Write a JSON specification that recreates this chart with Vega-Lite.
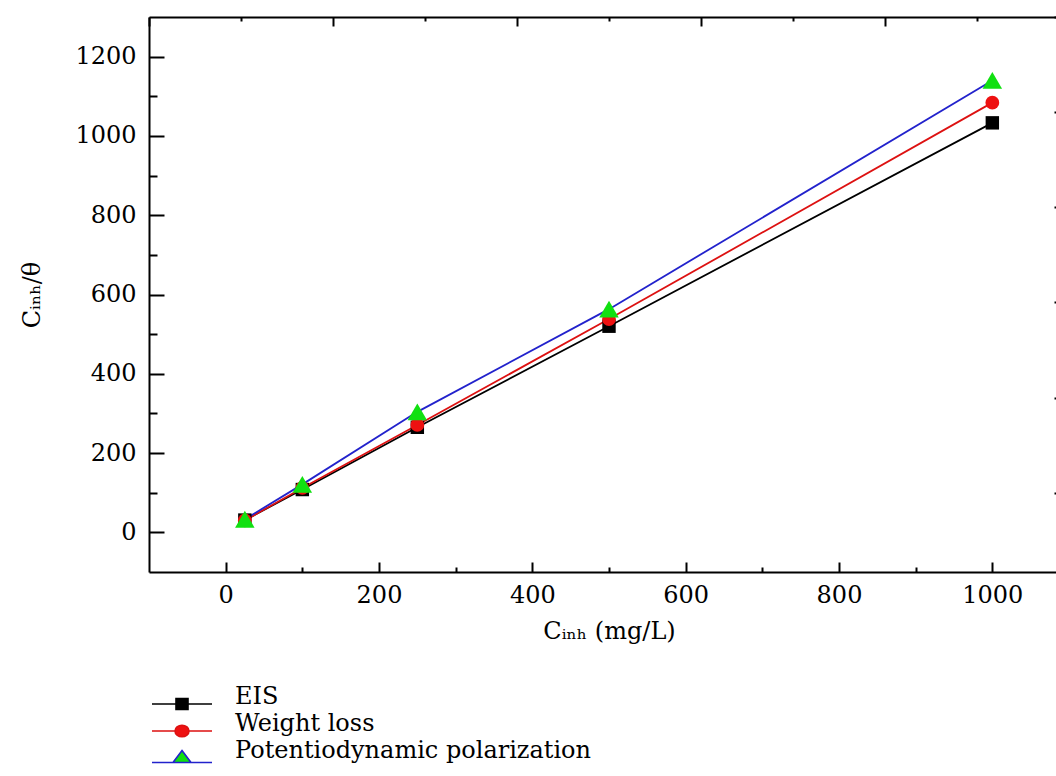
{
  "$schema": "https://vega.github.io/schema/vega-lite/v6.json",
  "width": 920,
  "height": 555,
  "autosize": {"type": "none"},
  "padding": {"left": 149, "top": 17, "right": 0, "bottom": 204},
  "background": "white",
  "data": {
    "values": [
      {"series": "EIS", "C": 25, "v": 31},
      {"series": "EIS", "C": 100, "v": 108},
      {"series": "EIS", "C": 250, "v": 265},
      {"series": "EIS", "C": 500, "v": 520},
      {"series": "EIS", "C": 1000, "v": 1033},
      {"series": "Weight loss", "C": 25, "v": 30},
      {"series": "Weight loss", "C": 100, "v": 112},
      {"series": "Weight loss", "C": 250, "v": 271},
      {"series": "Weight loss", "C": 500, "v": 538},
      {"series": "Weight loss", "C": 1000, "v": 1084},
      {"series": "Potentiodynamic polarization", "C": 25, "v": 33},
      {"series": "Potentiodynamic polarization", "C": 100, "v": 121},
      {"series": "Potentiodynamic polarization", "C": 250, "v": 304},
      {"series": "Potentiodynamic polarization", "C": 500, "v": 563},
      {"series": "Potentiodynamic polarization", "C": 1000, "v": 1140}
    ]
  },
  "layer": [
    {
      "mark": {"type": "point", "filled": true, "opacity": 0, "size": 400},
      "encoding": {
        "x": {"field": "C", "type": "quantitative", "scale": {"domain": [-100, 1100], "nice": false, "zero": false},
              "axis": {"orient": "top", "values": [-100, 140, 380, 620, 860, 1100], "tickSize": -9, "labels": false, "domain": true, "title": null}},
        "y": {"field": "v", "type": "quantitative", "scale": {"domain": [-100, 1300], "nice": false, "zero": false},
              "axis": {"orient": "right", "values": [100, 340, 580, 820, 1060, 1300], "tickSize": -15, "labels": false, "domain": true, "title": null}},
        "shape": {"field": "series", "type": "nominal",
                  "scale": {"domain": ["EIS", "Weight loss", "Potentiodynamic polarization"],
                            "range": ["M-3,0H-0.6M0.6,0H3M-0.6,-0.55H0.6V0.55H-0.6Z",
                                      "M-3,0H-0.7M0.7,0H3M0.7,0A0.7,0.58 0 1,1 -0.7,0A0.7,0.58 0 1,1 0.7,0Z",
                                      "M-3,0.45H3M0,-0.75L0.9,0.45H-0.9Z"]},
                  "legend": {"orient": "none", "legendX": 21, "legendY": 675, "title": null, "padding": 0, "symbolSize": 400, "symbolStrokeWidth": 1.6, "symbolOpacity": 1, "labelFont": "DejaVu Serif", "labelFontSize": 24, "labelColor": "black", "labelBaseline": "alphabetic", "labelOffset": 41, "rowPadding": -1, "labelLimit": 700,
                             "encode": {"symbols": {"update": {"fill": {"scale": "fill", "field": "value"}, "stroke": {"scale": "stroke", "field": "value"}, "shape": {"scale": "shape", "field": "value"}, "opacity": {"value": 1}, "strokeWidth": {"value": 1.6}}}}}},
        "fill": {"field": "series", "type": "nominal",
                 "scale": {"domain": ["EIS", "Weight loss", "Potentiodynamic polarization"], "range": ["#000000", "#ee1111", "#11e011"]},
                 "legend": {"orient": "none", "legendX": 21, "legendY": 675, "title": null, "padding": 0, "symbolSize": 400, "symbolStrokeWidth": 1.6, "symbolOpacity": 1, "labelFont": "DejaVu Serif", "labelFontSize": 24, "labelColor": "black", "labelBaseline": "alphabetic", "labelOffset": 41, "rowPadding": -1, "labelLimit": 700,
                            "encode": {"symbols": {"update": {"fill": {"scale": "fill", "field": "value"}, "stroke": {"scale": "stroke", "field": "value"}, "shape": {"scale": "shape", "field": "value"}, "opacity": {"value": 1}, "strokeWidth": {"value": 1.6}}}}}},
        "stroke": {"field": "series", "type": "nominal",
                   "scale": {"domain": ["EIS", "Weight loss", "Potentiodynamic polarization"], "range": ["#000000", "#dd1111", "#2222cc"]},
                   "legend": {"orient": "none", "legendX": 21, "legendY": 675, "title": null, "padding": 0, "symbolSize": 400, "symbolStrokeWidth": 1.6, "symbolOpacity": 1, "labelFont": "DejaVu Serif", "labelFontSize": 24, "labelColor": "black", "labelBaseline": "alphabetic", "labelOffset": 41, "rowPadding": -1, "labelLimit": 700,
                              "encode": {"symbols": {"update": {"fill": {"scale": "fill", "field": "value"}, "stroke": {"scale": "stroke", "field": "value"}, "shape": {"scale": "shape", "field": "value"}, "opacity": {"value": 1}, "strokeWidth": {"value": 1.6}}}}}}
      }
    },
    {
      "mark": {"type": "line", "strokeWidth": 1.8},
      "encoding": {
        "x": {"field": "C", "type": "quantitative", "scale": {"domain": [-100, 1100], "nice": false, "zero": false},
              "axis": {"orient": "bottom", "values": [0, 200, 400, 600, 800, 1000], "format": "d", "tickSize": -10, "labelPadding": 21, "domain": true, "labelFlush": false, "labelOverlap": false, "title": "Cᵢₙₕ  (mg/L)", "titlePadding": 12}},
        "y": {"field": "v", "type": "quantitative", "scale": {"domain": [-100, 1300], "nice": false, "zero": false},
              "axis": {"orient": "left", "values": [0, 200, 400, 600, 800, 1000, 1200], "format": "d", "tickSize": -15, "labelPadding": 28, "domain": true, "labelFlush": false, "labelOverlap": false, "title": "Cᵢₙₕ/θ", "titlePadding": 30}},
        "stroke": {"field": "series", "type": "nominal",
                   "scale": {"domain": ["EIS", "Weight loss", "Potentiodynamic polarization"], "range": ["#000000", "#dd1111", "#2222cc"]},
                   "legend": null},
        "order": {"field": "C", "type": "quantitative"}
      }
    },
    {
      "transform": [{"filter": {"field": "series", "equal": "EIS"}}],
      "mark": {"type": "point", "shape": "square", "filled": true, "size": 180, "opacity": 1},
      "encoding": {
        "x": {"field": "C", "type": "quantitative", "scale": {"domain": [-100, 1100], "nice": false, "zero": false},
              "axis": {"orient": "bottom", "values": [100, 300, 500, 700, 900], "tickSize": -5, "labels": false, "domain": false, "title": null}},
        "y": {"field": "v", "type": "quantitative", "scale": {"domain": [-100, 1300], "nice": false, "zero": false},
              "axis": {"orient": "left", "values": [100, 300, 500, 700, 900, 1100], "tickSize": -8, "labels": false, "domain": false, "title": null}},
        "fill": {"field": "series", "type": "nominal",
                 "scale": {"domain": ["EIS", "Weight loss", "Potentiodynamic polarization"], "range": ["#000000", "#ee1111", "#11e011"]},
                 "legend": null}
      }
    },
    {
      "transform": [{"filter": {"field": "series", "equal": "Weight loss"}}],
      "mark": {"type": "point", "shape": "circle", "filled": true, "size": 190, "opacity": 1},
      "encoding": {
        "x": {"field": "C", "type": "quantitative", "scale": {"domain": [-100, 1100], "nice": false, "zero": false},
              "axis": {"orient": "top", "values": [20, 260, 500, 740, 980], "tickSize": -4, "labels": false, "domain": false, "title": null}},
        "y": {"field": "v", "type": "quantitative", "scale": {"domain": [-100, 1300], "nice": false, "zero": false},
              "axis": {"orient": "right", "values": [-20, 220, 460, 700, 940, 1180], "tickSize": -8, "labels": false, "domain": false, "title": null}},
        "fill": {"field": "series", "type": "nominal",
                 "scale": {"domain": ["EIS", "Weight loss", "Potentiodynamic polarization"], "range": ["#000000", "#ee1111", "#11e011"]},
                 "legend": null}
      }
    },
    {
      "transform": [{"filter": {"field": "series", "equal": "Potentiodynamic polarization"}}],
      "mark": {"type": "point", "shape": "triangle-up", "filled": true, "size": 380, "opacity": 1},
      "encoding": {
        "x": {"field": "C", "type": "quantitative", "scale": {"domain": [-100, 1100], "nice": false, "zero": false}, "axis": null},
        "y": {"field": "v", "type": "quantitative", "scale": {"domain": [-100, 1300], "nice": false, "zero": false}, "axis": null},
        "fill": {"field": "series", "type": "nominal",
                 "scale": {"domain": ["EIS", "Weight loss", "Potentiodynamic polarization"], "range": ["#000000", "#ee1111", "#11e011"]},
                 "legend": null}
      }
    }
  ],
  "resolve": {"axis": {"x": "independent", "y": "independent"}},
  "config": {
    "view": {"stroke": null},
    "axis": {
      "grid": false,
      "domainColor": "#000000",
      "domainWidth": 2,
      "tickColor": "#000000",
      "tickWidth": 2,
      "labelFont": "DejaVu Serif",
      "labelFontSize": 24,
      "labelColor": "#000000",
      "titleFont": "DejaVu Serif",
      "titleFontSize": 24,
      "titleFontWeight": "normal",
      "titleColor": "#000000"
    }
  }
}
